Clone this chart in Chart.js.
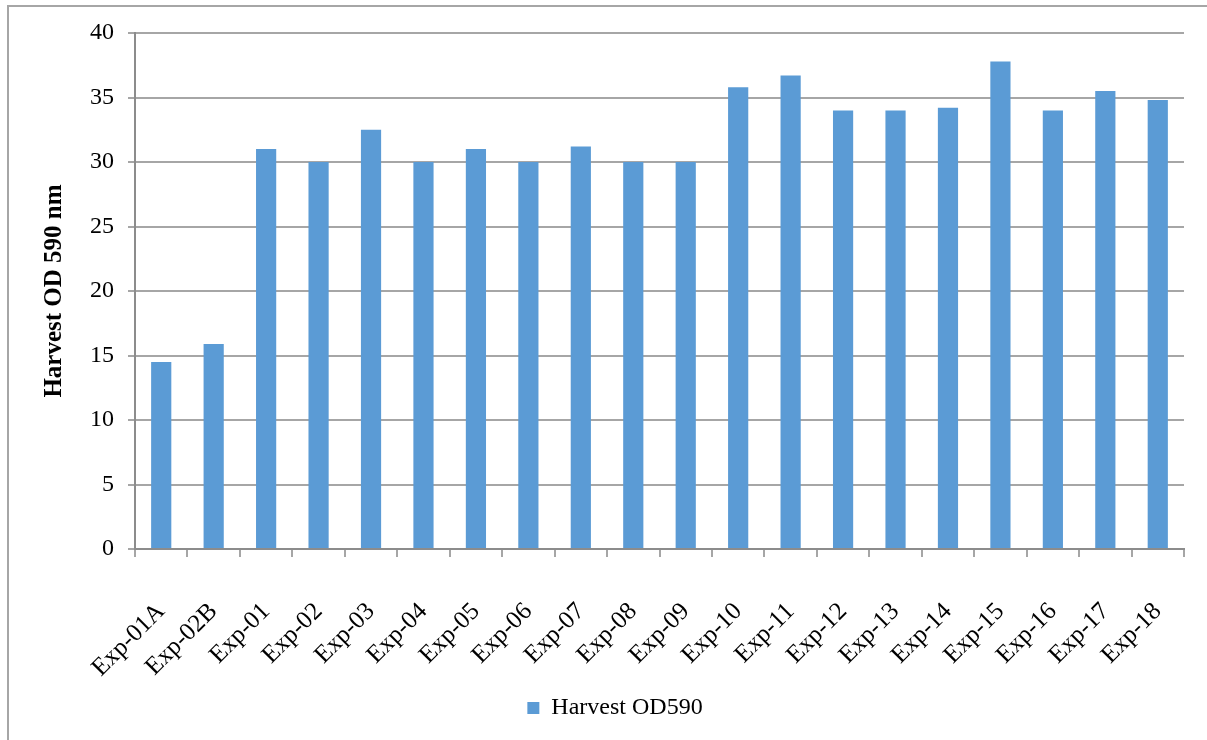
<!DOCTYPE html>
<html>
<head>
<meta charset="utf-8">
<script src="https://cdn.jsdelivr.net/npm/chart.js@4/dist/chart.umd.min.js"></script>
<style>
  html, body { margin: 0; padding: 0; background: #fff; }
  #wrap { position: relative; width: 1207px; height: 740px; overflow: hidden; }
  #frame { position: absolute; left: 7px; top: 5px; width: 1300px; height: 800px;
           border-top: 2px solid #a6a6a6; border-left: 2px solid #a6a6a6; pointer-events: none; }
  canvas { position: absolute; left: 0; top: 0; }
</style>
</head>
<body>
<div id="wrap">
  <canvas id="chart" width="1207" height="740"></canvas>
  <div id="frame"></div>
</div>
<script>
// Experiment runs along the category axis
const categories = ['Exp-01A', 'Exp-02B', 'Exp-01', 'Exp-02', 'Exp-03', 'Exp-04', 'Exp-05',
  'Exp-06', 'Exp-07', 'Exp-08', 'Exp-09', 'Exp-10', 'Exp-11', 'Exp-12', 'Exp-13', 'Exp-14',
  'Exp-15', 'Exp-16', 'Exp-17', 'Exp-18'];

// Harvest optical density at 590 nm for each run
const harvestOD590 = [14.5, 15.9, 31.0, 30.0, 32.5, 30.0, 31.0, 30.0, 31.2, 30.0, 30.0,
  35.8, 36.7, 34.0, 34.0, 34.2, 37.8, 34.0, 35.5, 34.8];

// Value axis ticks
const yTicks = [0, 5, 10, 15, 20, 25, 30, 35, 40];

const seriesName = 'Harvest OD590';
const yTitle = 'Harvest OD 590 nm';

const SERIF = "'Liberation Serif', 'Times New Roman', serif";
const GRID = '#a6a6a6';
const AXIS = '#8c8c8c';

// Nudge the legend a little to the right of the canvas centre
const legendShift = {
  id: 'legendShift',
  afterLayout(chart) {
    const lg = chart.legend;
    if (lg) lg.left += 46;
  }
};

new Chart(document.getElementById('chart'), {
  type: 'bar',
  data: {
    labels: categories,
    datasets: [{
      label: seriesName,
      data: harvestOD590,
      backgroundColor: '#5b9bd5',
      borderWidth: 0,
      categoryPercentage: 1.0,
      barPercentage: 0.385
    }]
  },
  plugins: [legendShift],
  options: {
    responsive: false,
    animation: false,
    layout: { padding: { top: 33, right: 23, left: 0, bottom: 10 } },
    plugins: {
      tooltip: { enabled: false },
      legend: {
        position: 'bottom',
        labels: {
          boxWidth: 12,
          boxHeight: 12,
          color: '#000',
          padding: 10,
          font: { family: SERIF, size: 24 }
        }
      }
    },
    scales: {
      x: {
        grid: {
          display: true,
          drawOnChartArea: false,
          drawTicks: true,
          tickLength: 8,
          color: GRID,
          lineWidth: 2
        },
        border: { display: true, color: AXIS, width: 2 },
        ticks: {
          color: '#000',
          font: { family: SERIF, size: 25 },
          minRotation: 45,
          maxRotation: 45,
          padding: 40,
          autoSkip: false
        },
        afterFit(scale) {
          const leg = scale.chart.legend;
          const legH = leg && leg.height ? leg.height : 54;
          scale.height = 740 - 10 - legH - 549;
          // keep the rotated labels from shrinking the plot width
          scale.paddingLeft = 0;
          scale.paddingRight = 0;
        }
      },
      y: {
        min: 0,
        max: 40,
        afterBuildTicks(scale) {
          scale.ticks = yTicks.map(v => ({ value: v }));
        },
        grid: {
          color: GRID,
          lineWidth: 2,
          drawTicks: true,
          tickLength: 7
        },
        border: { display: true, color: AXIS, width: 2 },
        ticks: {
          color: '#000',
          font: { family: SERIF, size: 24 },
          padding: 14
        },
        title: {
          display: true,
          text: yTitle,
          color: '#000',
          font: { family: SERIF, size: 25, weight: 'bold' },
          padding: { top: 40, bottom: 0 }
        },
        afterFit(scale) {
          scale.width = 135;
        }
      }
    }
  }
});
</script>
</body>
</html>
